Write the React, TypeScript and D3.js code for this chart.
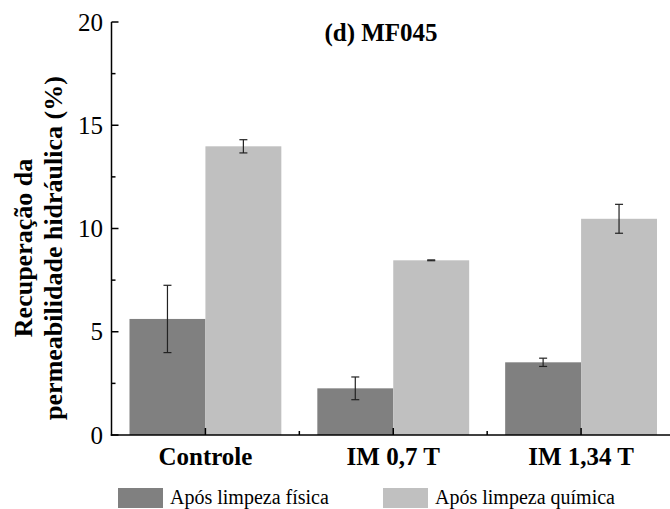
import React from "react";
import * as d3 from "d3";

// Hydraulic permeability recovery by treatment
const categories = ["Controle", "IM 0,7 T", "IM 1,34 T"];
const seriesNames = ["Após limpeza física", "Após limpeza química"];
const fisica = [5.62, 2.26, 3.52];
const fisicaErr = [1.63, 0.55, 0.2];
const quimica = [13.98, 8.46, 10.47];
const quimicaErr = [0.32, 0.02, 0.7];
const yTicks = [0, 5, 10, 15, 20];
const yMinorTicks = [2.5, 7.5, 12.5, 17.5];

const colors = ["#808080", "#c0c0c0"];
const FONT = "'Liberation Serif', Tinos, 'Times New Roman', serif";

export default function App() {
  const W = 670;
  const H = 509;
  const left = 111.5;
  const right = 675;
  const top = 22;
  const bottom = 435;

  const x = d3.scaleBand<string>().domain(categories).range([left, right]);
  const y = d3.scaleLinear().domain([0, 20]).range([bottom, top]);
  const sub = d3.scaleBand<number>().domain([0, 1]).range([0, x.bandwidth()]).paddingOuter(0.237);

  const series = [
    { vals: fisica, errs: fisicaErr },
    { vals: quimica, errs: quimicaErr },
  ];

  const xMinor = categories.slice(1).map((c) => x(c)!);

  return (
    <svg width={W} height={H} fontFamily={FONT} style={{ position: "absolute", left: 0, top: 0, fontFamily: FONT }}>
      <rect width={W} height={H} fill="#fff" />
      {series.map((s, si) =>
        categories.map((c, ci) => {
          const bx = x(c)! + sub(si)!;
          const bw = sub.bandwidth();
          const cx = bx + bw / 2;
          const v = s.vals[ci];
          const e = s.errs[ci];
          return (
            <g key={`${si}-${ci}`}>
              <rect x={bx} y={y(v)} width={bw} height={y(0) - y(v)} fill={colors[si]} />
              <line x1={cx} x2={cx} y1={y(v + e)} y2={y(v - e)} stroke="#222" strokeWidth={1.2} />
              <line x1={cx - 4} x2={cx + 4} y1={y(v + e)} y2={y(v + e)} stroke="#222" strokeWidth={1.2} />
              <line x1={cx - 4} x2={cx + 4} y1={y(v - e)} y2={y(v - e)} stroke="#222" strokeWidth={1.2} />
            </g>
          );
        })
      )}
      {/* axes */}
      <line x1={left} x2={left} y1={top} y2={bottom + 0.75} stroke="#000" strokeWidth={1.5} />
      <line x1={left - 0.75} x2={right} y1={bottom} y2={bottom} stroke="#000" strokeWidth={1.5} />
      {yMinorTicks.map((t) => (
        <line key={t} x1={left} x2={left + 4} y1={y(t)} y2={y(t)} stroke="#000" strokeWidth={1.5} />
      ))}
      {xMinor.map((mx, i) => (
        <line key={i} x1={mx} x2={mx} y1={bottom} y2={bottom - 4} stroke="#000" strokeWidth={1.5} />
      ))}
      {yTicks.map((t) => (
        <g key={t}>
          <line x1={left} x2={left + 7} y1={y(t)} y2={y(t)} stroke="#000" strokeWidth={1.5} />
          <text x={103} y={y(t)} dy="0.34em" textAnchor="end" fontSize={25}>
            {t}
          </text>
        </g>
      ))}
      {categories.map((c) => {
        const cx = x(c)! + x.bandwidth() / 2;
        return (
          <g key={c}>
            <line x1={cx} x2={cx} y1={bottom} y2={bottom - 7} stroke="#000" strokeWidth={1.5} />
            <text x={cx} y={465} textAnchor="middle" fontSize={25} fontWeight="bold">
              {c}
            </text>
          </g>
        );
      })}
      <text x={381} y={41} textAnchor="middle" fontSize={25} fontWeight="bold">
        (d) MF045
      </text>
      <g transform="translate(0,248) rotate(-90)">
        <text x={0} y={32} textAnchor="middle" fontSize={26} fontWeight="bold">
          Recuperação da
        </text>
        <text x={0} y={62} textAnchor="middle" fontSize={26} fontWeight="bold">
          permeabilidade hidráulica (%)
        </text>
      </g>
      {/* legend */}
      {seriesNames.map((n, i) => {
        const lx = i === 0 ? 118 : 383;
        return (
          <g key={n}>
            <rect x={lx} y={488} width={45} height={20} fill={colors[i]} />
            <text x={lx + 52} y={504} fontSize={20}>
              {n}
            </text>
          </g>
        );
      })}
    </svg>
  );
}
